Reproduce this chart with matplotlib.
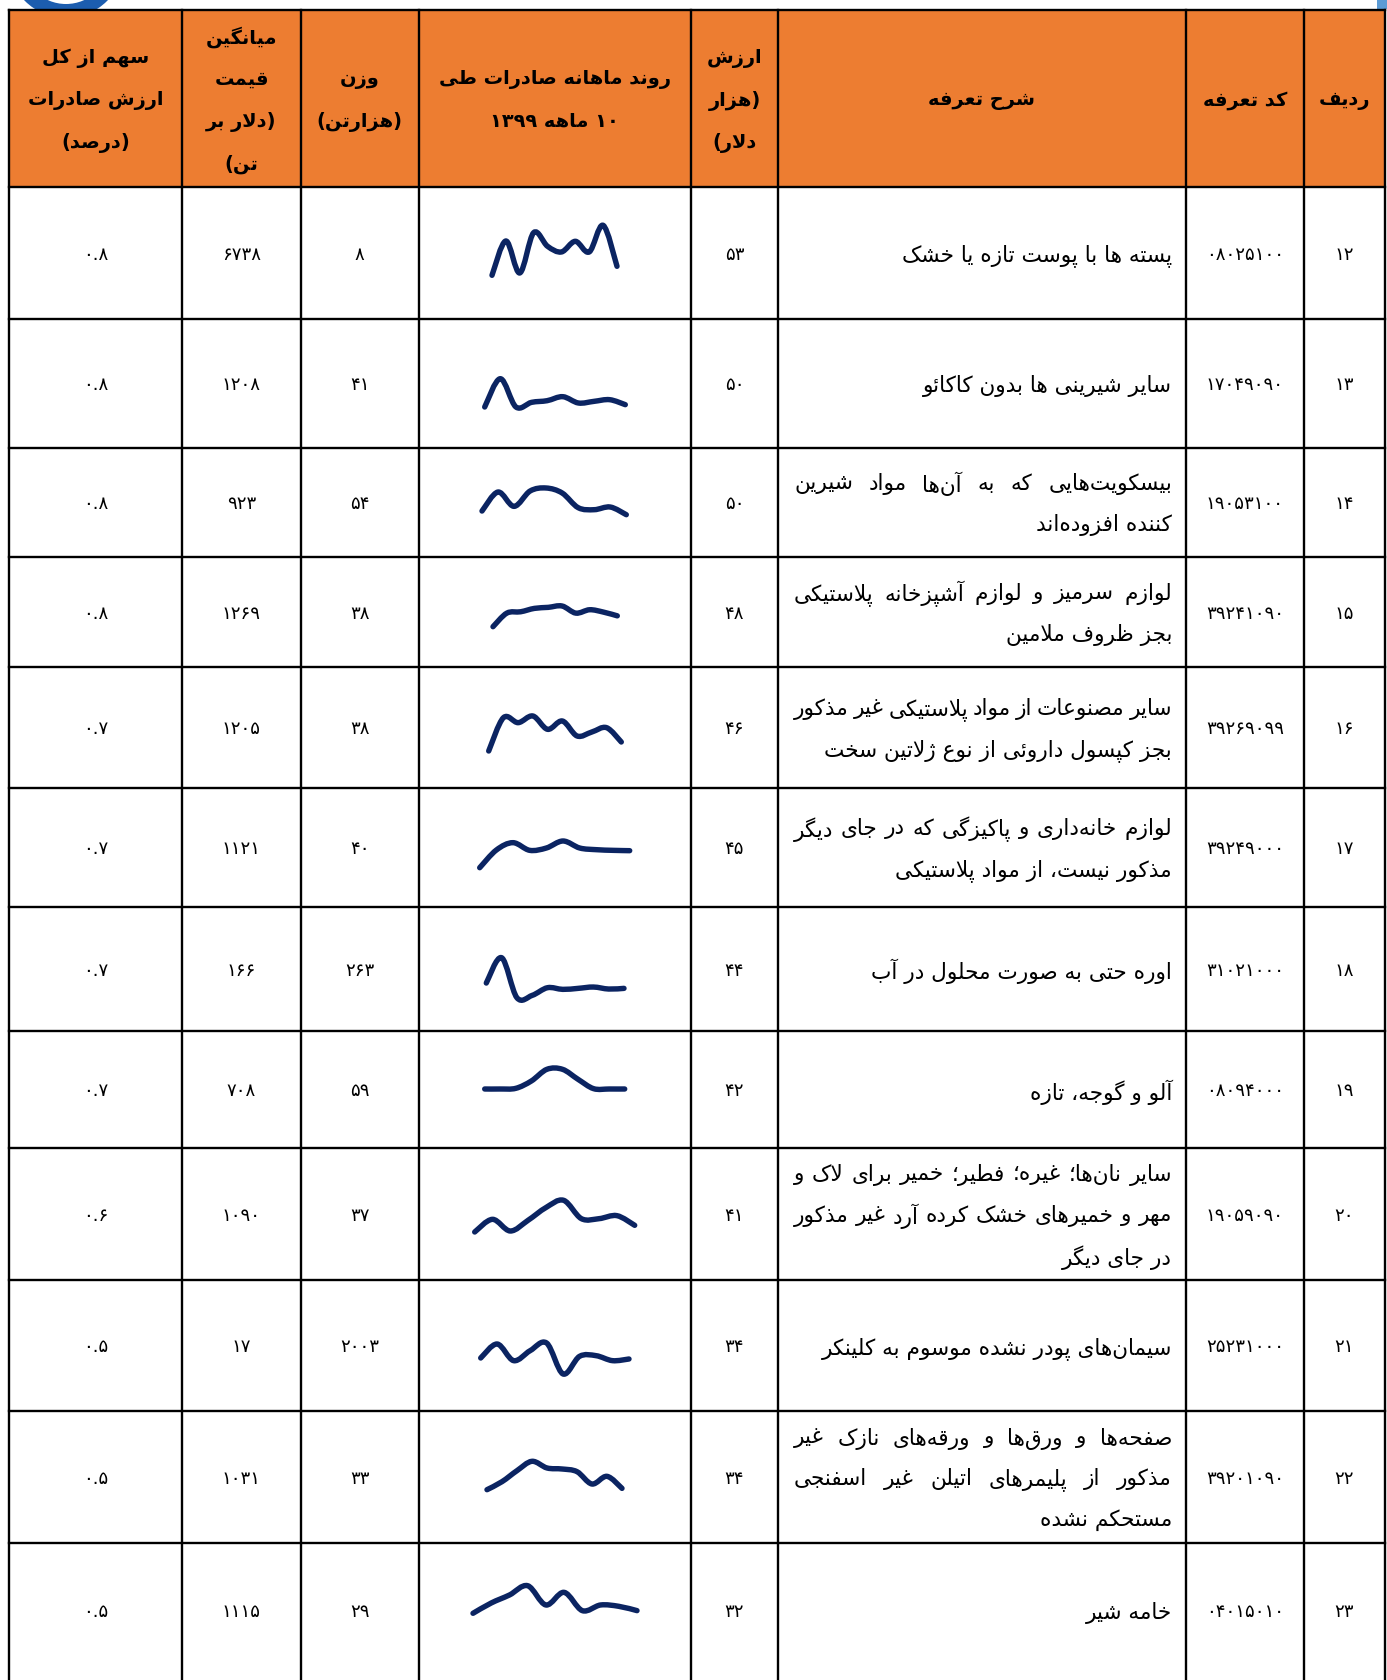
import re
import numpy as np
import matplotlib
matplotlib.use("Agg")
import matplotlib.pyplot as plt
from matplotlib.path import Path
from matplotlib.patches import PathPatch, Rectangle, Circle

plt.rcParams['font.family'] = ['DejaVu Sans']

# ---------------------------------------------------------------- data
row_ids = [12, 13, 14, 15, 16, 17, 18, 19, 20, 21, 22, 23]
tariff_codes = ['08025100', '17049090', '19053100', '39241090', '39269099', '39249000',
                '31021000', '08094000', '19059090', '25231000', '39201090', '04015010']
descriptions = [
    ["پسته ها با پوست تازه یا خشک"],
    ["سایر شیرینی ها بدون کاکائو"],
    ["بیسکویت\u200cهایی که به آن\u200cها مواد شیرین", "کننده افزوده\u200cاند"],
    ["لوازم سرمیز و لوازم آشپزخانه پلاستیکی", "بجز ظروف ملامین"],
    ["سایر مصنوعات از مواد پلاستیکی غیر مذکور", "بجز کپسول داروئی از نوع ژلاتین سخت"],
    ["لوازم خانه\u200cداری و پاکیزگی که در جای دیگر", "مذکور نیست، از مواد پلاستیکی"],
    ["اوره حتی به صورت محلول در آب"],
    ["آلو و گوجه، تازه"],
    ["سایر نان\u200cها؛ غیره؛ فطیر؛ خمیر برای لاک و", "مهر و خمیرهای خشک کرده آرد غیر مذکور", "در جای دیگر"],
    ["سیمان\u200cهای پودر نشده موسوم به کلینکر"],
    ["صفحه\u200cها و ورق\u200cها و ورقه\u200cهای نازک غیر", "مذکور از پلیمرهای اتیلن غیر اسفنجی", "مستحکم نشده"],
    ["خامه شیر"],
]
export_value = [53, 50, 50, 48, 46, 45, 44, 42, 41, 34, 34, 32]          # thousand USD
weight = [8, 41, 54, 38, 38, 40, 263, 59, 37, 2003, 33, 29]             # thousand tonnes
avg_price = [6738, 1208, 923, 1269, 1205, 1121, 166, 708, 1090, 17, 1031, 1115]
share = [0.8, 0.8, 0.8, 0.8, 0.7, 0.7, 0.7, 0.7, 0.6, 0.5, 0.5, 0.5]

# monthly export trend (10 months of 1399), relative units read from sparklines
trend_12 = [35, 138, 42, 163, 122, 105, 137, 105, 185, 62]
trend_13 = [40, 125, 40, 54, 59, 71, 52, 57, 62, 47]
trend_14 = [28, 85, 42, 88, 97, 82, 38, 32, 40, 17]
trend_15 = [38, 78, 82, 92, 95, 99, 78, 88, 81, 70]
trend_16 = [35, 135, 120, 140, 100, 125, 80, 92, 105, 62]
trend_17 = [25, 78, 100, 77, 84, 105, 84, 79, 77, 76]
trend_18 = [72, 148, 28, 35, 58, 53, 56, 60, 54, 56]
trend_19 = [34, 34, 36, 58, 93, 93, 63, 35, 34, 34]
trend_20 = [25, 63, 28, 60, 98, 120, 65, 65, 74, 45]
trend_21 = [63, 105, 55, 85, 108, 15, 68, 70, 55, 60]
trend_22 = [28, 52, 85, 113, 93, 90, 82, 45, 68, 32]
trend_23 = [27, 58, 82, 110, 52, 90, 35, 52, 48, 35]
trends = [trend_12, trend_13, trend_14, trend_15, trend_16, trend_17,
          trend_18, trend_19, trend_20, trend_21, trend_22, trend_23]

headers = [  # columns from left to right
    ["سهم از کل", "ارزش صادرات", "(درصد)"],
    ["میانگین", "قیمت", "(دلار بر", "تن)"],
    ["وزن", "(هزارتن)"],
    ["روند ماهانه صادرات طی", "۱۰ ماهه ۱۳۹۹"],
    ["ارزش", "(هزار", "دلار)"],
    ["شرح تعرفه"],
    ["کد تعرفه"],
    ["ردیف"],
]

# ---------------------------------------------------------------- layout
W, H = 1387, 1680
COL_X = [9, 182, 301, 418.5, 691, 778, 1186, 1304, 1385]
HEAD_TOP, HEAD_BOT = 9.5, 187
ROW_Y = [187, 318.5, 448, 556.5, 667, 787.5, 907, 1031, 1148, 1279.5, 1411, 1543, 1680]
# sparkline boxes (x0, x1, y_top, y_bottom) in pixels
SPARK_BOX = [
    (492, 617, 225.3, 275.3), (484.7, 625.3, 378.7, 407), (482, 626.3, 488, 514.7),
    (493, 617.3, 606, 626.7), (488.7, 621.3, 716, 751), (479.7, 629.7, 841, 867.7),
    (486.3, 624, 957.7, 997.7), (484.7, 624.7, 1069.3, 1089), (474.7, 634.7, 1200.3, 1232),
    (480.7, 629, 1343, 1374), (487, 622, 1461.3, 1489.7), (473, 637, 1585.7, 1613.3),
]
ORANGE = '#ED7D31'
NAVY = '#0B2462'
LINE_W = 1.7

# ---------------------------------------------------------------- Persian shaping
FORMS = {
    'ا': ('\uFE8D', '\uFE8E', None, None), 'آ': ('\uFE81', '\uFE82', None, None),
    'أ': ('\uFE83', '\uFE84', None, None), 'ؤ': ('\uFE85', '\uFE86', None, None),
    'إ': ('\uFE87', '\uFE88', None, None), 'ئ': ('\uFE89', '\uFE8A', '\uFE8B', '\uFE8C'),
    'ب': ('\uFE8F', '\uFE90', '\uFE91', '\uFE92'), 'ة': ('\uFE93', '\uFE94', None, None),
    'ت': ('\uFE95', '\uFE96', '\uFE97', '\uFE98'), 'ث': ('\uFE99', '\uFE9A', '\uFE9B', '\uFE9C'),
    'ج': ('\uFE9D', '\uFE9E', '\uFE9F', '\uFEA0'), 'ح': ('\uFEA1', '\uFEA2', '\uFEA3', '\uFEA4'),
    'خ': ('\uFEA5', '\uFEA6', '\uFEA7', '\uFEA8'), 'د': ('\uFEA9', '\uFEAA', None, None),
    'ذ': ('\uFEAB', '\uFEAC', None, None), 'ر': ('\uFEAD', '\uFEAE', None, None),
    'ز': ('\uFEAF', '\uFEB0', None, None), 'س': ('\uFEB1', '\uFEB2', '\uFEB3', '\uFEB4'),
    'ش': ('\uFEB5', '\uFEB6', '\uFEB7', '\uFEB8'), 'ص': ('\uFEB9', '\uFEBA', '\uFEBB', '\uFEBC'),
    'ض': ('\uFEBD', '\uFEBE', '\uFEBF', '\uFEC0'), 'ط': ('\uFEC1', '\uFEC2', '\uFEC3', '\uFEC4'),
    'ظ': ('\uFEC5', '\uFEC6', '\uFEC7', '\uFEC8'), 'ع': ('\uFEC9', '\uFECA', '\uFECB', '\uFECC'),
    'غ': ('\uFECD', '\uFECE', '\uFECF', '\uFED0'), 'ف': ('\uFED1', '\uFED2', '\uFED3', '\uFED4'),
    'ق': ('\uFED5', '\uFED6', '\uFED7', '\uFED8'), 'ك': ('\uFED9', '\uFEDA', '\uFEDB', '\uFEDC'),
    'ل': ('\uFEDD', '\uFEDE', '\uFEDF', '\uFEE0'), 'م': ('\uFEE1', '\uFEE2', '\uFEE3', '\uFEE4'),
    'ن': ('\uFEE5', '\uFEE6', '\uFEE7', '\uFEE8'), 'ه': ('\uFEE9', '\uFEEA', '\uFEEB', '\uFEEC'),
    'و': ('\uFEED', '\uFEEE', None, None), 'ى': ('\uFEEF', '\uFEF0', None, None),
    'ي': ('\uFEF1', '\uFEF2', '\uFEF3', '\uFEF4'), 'پ': ('\uFB56', '\uFB57', '\uFB58', '\uFB59'),
    'چ': ('\uFB7A', '\uFB7B', '\uFB7C', '\uFB7D'), 'ژ': ('\uFB8A', '\uFB8B', None, None),
    'ک': ('\uFB8E', '\uFB8F', '\uFB90', '\uFB91'), 'گ': ('\uFB92', '\uFB93', '\uFB94', '\uFB95'),
    'ی': ('\uFBFC', '\uFBFD', '\uFBFE', '\uFBFF'),
}
LAM_ALEF = {'ا': ('\uFEFB', '\uFEFC'), 'آ': ('\uFEF5', '\uFEF6'),
            'أ': ('\uFEF7', '\uFEF8'), 'إ': ('\uFEF9', '\uFEFA')}


def shape(s):
    units = []
    i = 0
    while i < len(s):
        c = s[i]
        if c == 'ل' and i + 1 < len(s) and s[i + 1] in LAM_ALEF:
            iso, fin = LAM_ALEF[s[i + 1]]
            units.append((c, (iso, fin, None, None)))
            i += 2
        else:
            units.append((c, FORMS.get(c)))
            i += 1
    out = []
    n = len(units)
    for k, (c, f) in enumerate(units):
        if f is None:
            if c != '\u200c':
                out.append(c)
            continue
        jp = k > 0 and units[k - 1][1] is not None and units[k - 1][1][2] is not None
        jn = f[2] is not None and k + 1 < n and units[k + 1][1] is not None
        if jp and jn:
            out.append(f[3])
        elif jp:
            out.append(f[1])
        elif jn:
            out.append(f[2])
        else:
            out.append(f[0])
    return ''.join(out)


MIRROR = {'(': ')', ')': '('}


def visual(s):
    segs = re.findall(r'[0-9\u06F0-\u06F9]+(?:[.,][0-9\u06F0-\u06F9]+)*|.', shape(s))
    return ''.join(MIRROR.get(t, t) for t in reversed(segs))


FA = str.maketrans('0123456789', '۰۱۲۳۴۵۶۷۸۹')


def fa(x):
    return str(x).translate(FA)


# ---------------------------------------------------------------- figure
fig = plt.figure(figsize=(W / 100, H / 100), dpi=100)
ax = fig.add_axes([0, 0, 1, 1])
ax.set_xlim(0, W)
ax.set_ylim(H, 0)
ax.axis('off')
renderer = fig.canvas.get_renderer()


def measure(txt, size, weight='normal'):
    t = ax.text(0, 0, txt, fontsize=size, fontweight=weight)
    w = t.get_window_extent(renderer).width
    t.remove()
    return w


BODY_FS = 10 * 273 / measure(visual(descriptions[0][0]), 10)
HEAD_FS = 10 * 233 / measure(visual(headers[3][0]), 10, 'bold')
NUM_FS = 10 * 78 / measure(fa(tariff_codes[1]), 10)

# logo fragment (top-left) and small mark (top-right)
ax.add_patch(Circle((66, -40), 58, facecolor='#1C5DAF', edgecolor='none', zorder=0))
ax.add_patch(Circle((66, -40), 44, facecolor='white', edgecolor='none', zorder=0))
ax.add_patch(Circle((66, -40), 36, facecolor='#1C5DAF', edgecolor='none', zorder=0))
ax.add_patch(Rectangle((1377, 0), 10, 9, facecolor='#5B9BD5', edgecolor='none'))

# header background
ax.add_patch(Rectangle((COL_X[0], HEAD_TOP), COL_X[-1] - COL_X[0], HEAD_BOT - HEAD_TOP,
                       facecolor=ORANGE, edgecolor='none', zorder=1))
ax.add_patch(Rectangle((COL_X[0], HEAD_BOT), COL_X[-1] - COL_X[0], H - HEAD_BOT,
                       facecolor='white', edgecolor='none', zorder=1))

# grid
for x in COL_X:
    ax.plot([x, x], [HEAD_TOP, H], color='black', lw=LINE_W, zorder=3, solid_capstyle='projecting')
for y in [HEAD_TOP] + ROW_Y[:-1]:
    ax.plot([COL_X[0], COL_X[-1]], [y, y], color='black', lw=LINE_W, zorder=3, solid_capstyle='projecting')

# header text
HEAD_C = (HEAD_TOP + HEAD_BOT) / 2
for ci, lines in enumerate(headers):
    xc = (COL_X[ci] + COL_X[ci + 1]) / 2
    n = len(lines)
    for li, line in enumerate(lines):
        y = HEAD_C + (li - (n - 1) / 2) * 42.5
        ax.text(xc, y, visual(line), ha='center', va='center_baseline', fontsize=HEAD_FS,
                fontweight='bold', color='black', zorder=4)

# body
TXT_R, TXT_L = 1172, 794
LINE_SP = 41


def put_words(line, y, justify):
    if not justify:
        ax.text(TXT_R, y, visual(line), ha='right', va='center_baseline', fontsize=BODY_FS,
                color='black', zorder=4)
        return
    words = line.split(' ')
    arts = [ax.text(0, y, visual(w), ha='right', va='center_baseline', fontsize=BODY_FS,
                    color='black', zorder=4) for w in words]
    widths = [a.get_window_extent(renderer).width for a in arts]
    gap = (TXT_R - TXT_L - sum(widths)) / (len(words) - 1)
    x = TXT_R
    for a, w in zip(arts, widths):
        a.set_x(x)
        x -= w + gap


def center(ci):
    return (COL_X[ci] + COL_X[ci + 1]) / 2


for r in range(len(row_ids)):
    yc = (ROW_Y[r] + ROW_Y[r + 1]) / 2
    if r == len(row_ids) - 1:
        yc = 1610
    kw = dict(ha='center', va='center_baseline', fontsize=NUM_FS, color='black', zorder=4)
    ax.text(center(7), yc, fa(row_ids[r]), **kw)
    ax.text(center(6), yc, fa(tariff_codes[r]), **kw)
    ax.text(center(4), yc, fa(export_value[r]), **kw)
    ax.text(center(2), yc, fa(weight[r]), **kw)
    ax.text(center(1), yc, fa(avg_price[r]), **kw)
    ax.text(center(0), yc, fa(f"{share[r]:.1f}"), **kw)
    lines = descriptions[r]
    n = len(lines)
    for li, line in enumerate(lines):
        y = yc + (li - (n - 1) / 2) * LINE_SP
        put_words(line, y, justify=(li < n - 1))


# sparklines (smoothed)
def smooth_path(xs, ys):
    pts = np.column_stack([xs, ys]).astype(float)
    P = np.vstack([pts[0], pts, pts[-1]])
    verts = [pts[0]]
    codes = [Path.MOVETO]
    for i in range(1, len(P) - 2):
        p0, p1, p2, p3 = P[i - 1], P[i], P[i + 1], P[i + 2]
        verts += [p1 + (p2 - p0) / 6, p2 - (p3 - p1) / 6, p2]
        codes += [Path.CURVE4] * 3
    return Path(verts, codes)


for r, vals in enumerate(trends):
    x0, x1, yt, yb = SPARK_BOX[r]
    sax = fig.add_axes([x0 / W, 1 - yb / H, (x1 - x0) / W, (yb - yt) / H])
    sax.set_xlim(0, len(vals) - 1)
    sax.set_ylim(min(vals), max(vals))
    sax.axis('off')
    sax.add_patch(PathPatch(smooth_path(np.arange(len(vals)), vals), fill=False,
                            edgecolor=NAVY, lw=3.9, capstyle='round', joinstyle='round',
                            clip_on=False))

fig.savefig('out.png', dpi=100)
